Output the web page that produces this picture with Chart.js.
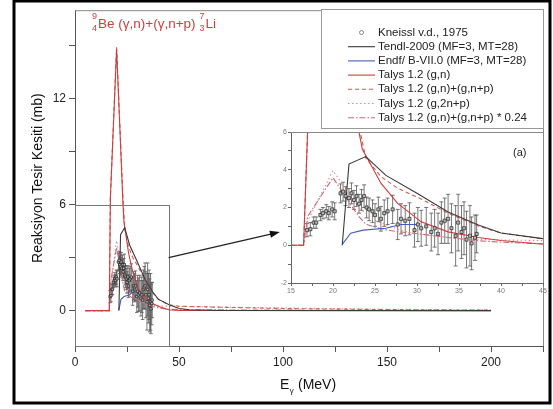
<!DOCTYPE html>
<html><head><meta charset="utf-8">
<script src="https://cdn.jsdelivr.net/npm/chart.js@4"></script>
<style>
html,body{margin:0;padding:0;background:#fff;}
#wrap{position:relative;width:553px;height:409px;}
#main{position:absolute;left:0;top:0;}
#inset{position:absolute;left:265px;top:124px;}
</style></head><body>
<div id="wrap"><canvas id="main" width="553" height="409"></canvas><canvas id="inset" width="285" height="180"></canvas></div>
<script>
// ---------- DATA ----------
const knE  = [16.9,17.3,17.7,18.0,18.5,18.8,19.2,19.5,19.9,20.2,20.9,21.2,21.5,21.9,22.2,22.5,22.8,23.1,23.4,23.7,24.0,24.3,24.7,25.0,25.4,25.7,26.1,26.5,27.1,27.7,28.1,28.6,29.1,29.7,30.1,30.5,31.1,31.7,32.1,32.5,32.9,33.3,33.7,34.1,34.6,34.9,35.3,35.6,35.9,36.3,36.5,36.9,37.1];
const knXS = [0.8,0.85,1.2,1.2,1.6,1.7,1.8,1.7,1.9,1.8,2.75,2.84,2.6,2.5,2.75,2.4,2.6,2.2,2.4,2.6,2.0,1.9,1.8,1.6,1.9,1.4,1.7,1.8,1.9,1.1,1.4,1.3,1.4,0.8,1.1,0.9,1.0,0.7,0.9,0.6,1.2,1.3,1.4,0.9,0.5,1.2,0.7,0.9,0.3,0.5,0.1,0.4,0.6];
const knErr= [0.35,0.35,0.3,0.3,0.3,0.3,0.35,0.35,0.4,0.45,0.5,0.5,0.5,0.5,0.55,0.5,0.55,0.5,0.55,0.6,0.55,0.6,0.6,0.6,0.65,0.65,0.7,0.7,0.75,0.8,0.8,0.8,0.85,0.9,0.9,0.95,1.0,1.0,1.0,1.1,1.1,1.2,1.3,1.3,1.6,1.5,1.4,1.4,1.5,1.6,1.4,1.2,1.0];

const tendlE  = [21.1,21.9,23.9,26.3,30.0,33.7,37.3,40,45,50,55,70,200];
const tendlXS = [0,4.3,4.7,3.7,2.75,1.76,1.07,0.65,0.35,0.12,0.05,0.01,0];

const endfE  = [21.1,22.1,23.6,26.3,28.1,30.1];
const endfXS = [0.05,0.64,0.8,0.9,1.1,1.1];

const talysGnE  = [5,16.5,17,20,23,23.5,24.3,25.7,27.7,30.5,33.7,37.3,40,45,50,200];
const talysGnXS = [0,0,6.3,14.8,6.2,5.07,4.44,3.29,2.22,1.24,0.71,0.41,0.25,0.05,0.01,0];

const talysGnpE  = [5,16.5,17,20,23,23.9,25.7,27.7,30.5,33.7,37.3,40,45,50,75,100,150,200];
const talysGnpXS = [0,0,6.4,14.9,6.5,4.62,3.64,3.02,2.45,1.7,1.02,0.65,0.33,0.25,0.18,0.12,0.06,0.03];

const talys2npE  = [5,16.5,17,20,21,22,23,25,28,30,35,40,45,60,100,150,200];
const talys2npXS = [0,0,1.3,3.96,3.3,2.6,2.0,1.3,0.8,0.6,0.35,0.28,0.25,0.22,0.15,0.08,0.04];

const talysScE  = [5,16.5,17,20,23,23.9,25.7,27.7,30.5,33.7,37.3,40,45,50,75,100,150,200];
const talysScXS = [0,0,1.54,3.58,1.56,1.11,0.87,0.72,0.59,0.41,0.24,0.16,0.08,0.06,0.04,0.03,0.01,0.01];

const mainXTicks = [0,25,50,75,100,125,150,175,200,225];
const mainYTicks = [0,3,6,9,12,15];
const insetXTicks = [15,17.5,20,22.5,25,27.5,30,32.5,35,37.5,40,42.5,45];
const insetYTicks = [-2,-1,0,1,2,3,4,5,6];

const zoomBox = {x0:0, x1:45, y0:-2, y1:6};
const arrowFrom = [45, 3.0];
const arrowTo   = [98.5, 4.45];

// ---------- BUILD ----------
const pts = (xs, ys) => xs.map((x,i)=>({x:x, y:ys[i]}));
const FONT = "'Liberation Sans', Arial, sans-serif";

function datasets(inset){
  const lw = 1.1;
  return [
    {label:'Kneissl v.d., 1975', data:pts(knE,knXS), err:knErr, showLine:false, pointStyle:'rect',
      pointRadius: inset?2.2:1.7, backgroundColor:'#b8b8b8', borderColor:'#222', borderWidth:0.7, isData:true},
    {label:'Tendl-2009 (MF=3, MT=28)', data:pts(tendlE,tendlXS), showLine:true, borderColor:'#3a3a3a', borderWidth:lw, pointRadius:0},
    {label:'Endf/ B-VII.0 (MF=3, MT=28)', data:pts(endfE,endfXS), showLine:true, borderColor:'#4a5ab8', borderWidth:lw, pointRadius:0},
    {label:'Talys 1.2 (g,n)', data:pts(talysGnE,talysGnXS), showLine:true, borderColor:'#d03c3c', borderWidth:lw, pointRadius:0},
    {label:'Talys 1.2 (g,n)+(g,n+p)', data:pts(talysGnpE,talysGnpXS), showLine:true, borderColor:'#cf5858', borderWidth:lw, borderDash:[4,3], pointRadius:0},
    {label:'Talys 1.2 (g,2n+p)', data:pts(talys2npE,talys2npXS), showLine:true, borderColor:'#d88c8c', borderWidth:lw, borderDash:[1.5,2.5], pointRadius:0},
    {label:'Talys 1.2 (g,n)+(g,n+p) * 0.24', data:pts(talysScE,talysScXS), showLine:true, borderColor:'#c8687a', borderWidth:lw, borderDash:[6,2,1.5,2], pointRadius:0},
  ];
}

const errPlugin = {
  id:'errbars',
  beforeDatasetsDraw(chart){
    const ctx = chart.ctx, ca = chart.chartArea, xs = chart.scales.x, ys = chart.scales.y;
    const ds = chart.data.datasets.find(d=>d.isData);
    ctx.save();
    ctx.beginPath(); ctx.rect(ca.left, ca.top, ca.right-ca.left, ca.bottom-ca.top); ctx.clip();
    ctx.strokeStyle = '#555'; ctx.lineWidth = 0.8;
    const cap = chart.canvas.id==='inset' ? 2 : 1.8;
    ds.data.forEach((p,i)=>{
      const px = xs.getPixelForValue(p.x);
      const y1 = ys.getPixelForValue(p.y - ds.err[i]);
      const y2 = ys.getPixelForValue(p.y + ds.err[i]);
      ctx.beginPath();
      ctx.moveTo(px, y1); ctx.lineTo(px, y2);
      ctx.moveTo(px-cap, y1); ctx.lineTo(px+cap, y1);
      ctx.moveTo(px-cap, y2); ctx.lineTo(px+cap, y2);
      ctx.stroke();
    });
    ctx.restore();
  }
};

const bgPlugin = {
  id:'bg',
  beforeDraw(chart){
    if (chart.canvas.id!=='main') return;
    const ctx = chart.ctx;
    ctx.save(); ctx.fillStyle='#fff'; ctx.fillRect(0,0,chart.width,chart.height); ctx.restore();
  }
};

function lineSample(ctx, ds, x0, x1, y){
  ctx.save();
  if (ds.isData){
    ctx.strokeStyle='#888'; ctx.lineWidth=1;
    ctx.beginPath(); ctx.arc((x0+x1)/2, y, 2, 0, Math.PI*2); ctx.stroke();
  } else {
    ctx.strokeStyle = ds.borderColor; ctx.lineWidth = 1.1;
    ctx.setLineDash(ds.borderDash || []);
    ctx.beginPath(); ctx.moveTo(x0,y); ctx.lineTo(x1,y); ctx.stroke();
  }
  ctx.restore();
}

const mainDeco = {
  id:'mainDeco',
  afterDraw(chart){
    const ctx = chart.ctx, ca = chart.chartArea, xs = chart.scales.x, ys = chart.scales.y;
    ctx.save();
    // plot box top/right
    ctx.strokeStyle='#888'; ctx.lineWidth=1;
    ctx.beginPath(); ctx.moveTo(ca.left, ca.top+0.5); ctx.lineTo(ca.right+0.5, ca.top+0.5); ctx.lineTo(ca.right+0.5, ca.bottom); ctx.stroke();
    // zoom rectangle
    ctx.strokeStyle='#777';
    const rx0 = xs.getPixelForValue(zoomBox.x0), rx1 = xs.getPixelForValue(zoomBox.x1);
    const ry0 = ys.getPixelForValue(zoomBox.y0), ry1 = ys.getPixelForValue(zoomBox.y1);
    ctx.strokeRect(Math.round(rx0)+0.5, Math.round(ry1)+0.5, Math.round(rx1-rx0), Math.round(ry0-ry1));
    // arrow
    const ax0 = xs.getPixelForValue(arrowFrom[0]), ay0 = ys.getPixelForValue(arrowFrom[1]);
    const ax1 = xs.getPixelForValue(arrowTo[0]), ay1 = ys.getPixelForValue(arrowTo[1]);
    ctx.strokeStyle='#222'; ctx.fillStyle='#111'; ctx.lineWidth=1.2;
    const ang = Math.atan2(ay1-ay0, ax1-ax0);
    ctx.beginPath(); ctx.moveTo(ax0,ay0); ctx.lineTo(ax1-6*Math.cos(ang), ay1-6*Math.sin(ang)); ctx.stroke();
    ctx.beginPath();
    ctx.moveTo(ax1, ay1);
    ctx.lineTo(ax1-10*Math.cos(ang)+3.5*Math.sin(ang), ay1-10*Math.sin(ang)-3.5*Math.cos(ang));
    ctx.lineTo(ax1-10*Math.cos(ang)-3.5*Math.sin(ang), ay1-10*Math.sin(ang)+3.5*Math.cos(ang));
    ctx.closePath(); ctx.fill();
    // outer frame
    ctx.strokeStyle='#000'; ctx.lineWidth=3;
    ctx.strokeRect(14, 1, 536, 402);
    // reaction annotation
    ctx.fillStyle='#d03c3c';
    ctx.textBaseline='alphabetic'; ctx.textAlign='left';
    ctx.font='9px '+FONT;
    ctx.fillText('9', 92, 19); ctx.fillText('4', 92, 31);
    ctx.font='13.5px '+FONT;
    const mainTxt = 'Be (\u03b3,n)+(\u03b3,n+p)';
    ctx.fillText(mainTxt, 98, 28);
    let tx = 98 + ctx.measureText(mainTxt).width + 4;
    ctx.font='9px '+FONT;
    ctx.fillText('7', tx, 19); ctx.fillText('3', tx, 31);
    ctx.font='13.5px '+FONT;
    ctx.fillText('Li', tx+6, 28);
    // x title
    ctx.fillStyle='#111';
    ctx.font='14px '+FONT;
    ctx.fillText('E', 280, 389);
    const ew = ctx.measureText('E').width;
    ctx.font='8px '+FONT;
    ctx.fillText('\u03b3', 280+ew+0.5, 393);
    ctx.font='14px '+FONT;
    ctx.fillText('(MeV)', 298, 389);
    // y title
    ctx.save();
    ctx.translate(38, (ca.top+ca.bottom)/2);
    ctx.rotate(-Math.PI/2);
    ctx.textAlign='center'; ctx.textBaseline='middle';
    ctx.font='14px '+FONT;
    ctx.fillText('Reaksiyon Tesir Kesiti (mb)', 0, 0);
    ctx.restore();
    // legend
    const lx0 = 321, ly0 = 9, lx1 = ca.right, ly1 = 128;
    ctx.fillStyle='#fff';
    ctx.fillRect(lx0, ly0, lx1-lx0, ly1-ly0);
    ctx.strokeStyle='#999'; ctx.lineWidth=1;
    ctx.strokeRect(lx0+0.5, ly0+0.5, lx1-lx0, ly1-ly0);
    ctx.font='11.5px '+FONT; ctx.textBaseline='middle'; ctx.textAlign='left'; ctx.fillStyle='#222';
    chart.data.datasets.forEach((ds,i)=>{
      const y = 32.5 + i*14.2;
      lineSample(ctx, ds, 348, 375, y);
      ctx.fillStyle='#222';
      ctx.fillText(ds.label, 378, y);
    });
    ctx.restore();
  }
};

const insetDeco = {
  id:'insetDeco',
  afterDraw(chart){
    const ctx = chart.ctx, ca = chart.chartArea;
    ctx.save();
    ctx.strokeStyle='#888'; ctx.lineWidth=1;
    ctx.beginPath(); ctx.moveTo(ca.left, ca.top+0.5); ctx.lineTo(ca.right+0.5, ca.top+0.5); ctx.lineTo(ca.right+0.5, ca.bottom); ctx.stroke();
    ctx.fillStyle='#222'; ctx.font='11px '+FONT; ctx.textBaseline='alphabetic';
    ctx.fillText('(a)', 248, 32);
    ctx.restore();
  }
};

new Chart(document.getElementById('main'), {
  type:'scatter',
  data:{datasets:datasets(false)},
  options:{
    responsive:false, animation:false, events:[],
    layout:{padding:{left:0,right:10,top:10,bottom:0}},
    plugins:{legend:{display:false}, tooltip:{enabled:false}},
    scales:{
      x:{type:'linear', min:0, max:225,
        afterBuildTicks:s=>{s.ticks = mainXTicks.map(v=>({value:v}));},
        afterFit:s=>{s.height = 63;},
        ticks:{autoSkip:false, maxRotation:0, padding:3, color:'#222', font:{size:12, family:FONT},
          callback:v=> (v%50===0 ? String(v) : '')},
        grid:{drawOnChartArea:false, tickLength:6, color:'#555'},
        border:{color:'#555'}},
      y:{type:'linear', min:-2, max:17,
        afterBuildTicks:s=>{s.ticks = mainYTicks.map(v=>({value:v}));},
        afterFit:s=>{s.width = 75;},
        ticks:{autoSkip:false, padding:3, color:'#222', font:{size:12, family:FONT},
          callback:v=> (v%6===0 ? String(v) : '')},
        grid:{drawOnChartArea:false, tickLength:6, color:'#555'},
        border:{color:'#555'}}
    }
  },
  plugins:[bgPlugin, errPlugin, mainDeco]
});

new Chart(document.getElementById('inset'), {
  type:'scatter',
  data:{datasets:datasets(true)},
  options:{
    responsive:false, animation:false, events:[],
    layout:{padding:{left:0,right:7,top:8,bottom:0}},
    plugins:{legend:{display:false}, tooltip:{enabled:false}},
    scales:{
      x:{type:'linear', min:15, max:45,
        afterBuildTicks:s=>{s.ticks = insetXTicks.map(v=>({value:v}));},
        afterFit:s=>{s.height = 21;},
        ticks:{autoSkip:false, maxRotation:0, padding:1, color:'#777', font:{size:7, family:FONT},
          callback:v=> (v%5===0 ? String(v) : '')},
        grid:{drawOnChartArea:false, tickLength:3, color:'#666'},
        border:{color:'#666'}},
      y:{type:'linear', min:-2, max:6,
        afterBuildTicks:s=>{s.ticks = insetYTicks.map(v=>({value:v}));},
        afterFit:s=>{s.width = 26;},
        ticks:{autoSkip:false, padding:1, color:'#777', font:{size:7, family:FONT},
          callback:v=> (v%2===0 ? String(v) : '')},
        grid:{drawOnChartArea:false, tickLength:3, color:'#666'},
        border:{color:'#666'}}
    }
  },
  plugins:[errPlugin, insetDeco]
});
</script>
</body></html>
